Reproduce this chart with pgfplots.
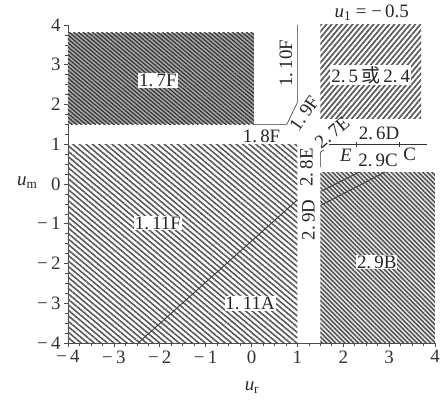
\documentclass[border=0pt]{standalone}
\usepackage{fontspec}
\setmainfont{Liberation Serif}
\newfontfamily\cjk{Noto Sans CJK SC}
\usepackage{pgfplots}
\pgfplotsset{compat=1.18}
\usetikzlibrary{patterns.meta}
\tikzset{lbl/.style={fill=white, inner sep=1pt, text=black!85, font=\fontsize{19}{21}\selectfont}}

\begin{document}
\begin{tikzpicture}
\begin{axis}[
  scale only axis, width=367bp, height=318bp,
  xmin=-4, xmax=4, ymin=-4, ymax=4,
  axis x line=bottom, axis y line=left,
  axis line style={-, black!70, line width=0.6pt},
  xtick={-4,...,4}, ytick={-4,...,4},
  xticklabels={−\,4,−\,3,−\,2,−\,1,0,1,2,3,4},
  yticklabels={−\,4,−\,3,−\,2,−\,1,0,1,2,3,4},
  minor tick num=3,
  tick align=outside,
  major tick length=4bp, minor tick length=3bp,
  tick style={black!70, line width=0.6pt},
  ticklabel style={font=\fontsize{19}{21}\selectfont, text=black!80},
  clip=false,
]
% hatched regions
\addplot[draw=none, pattern={Lines[angle=-40,distance=4.2bp,line width=1.6bp]}, pattern color=black!65]
  coordinates {(-4,-4) (1,-4) (1,1) (-4,1)} -- cycle;
\addplot[draw=none, fill=black!35, postaction={pattern={Lines[angle=-40,distance=3bp,line width=1.2bp]}, pattern color=black!80}]
  coordinates {(-4,1.5) (0.05,1.5) (0.05,3.8) (-4,3.8)} -- cycle;
\addplot[draw=none, fill=black!10, postaction={pattern={Lines[angle=-45,distance=3.2bp,line width=1.4bp]}, pattern color=black!70}]
  coordinates {(1.5,-4) (4,-4) (4,0.3) (1.5,0.3)} -- cycle;
\addplot[draw=none, pattern={Lines[angle=50,distance=4bp,line width=1.7bp]}, pattern color=black!65]
  coordinates {(1.5,1.65) (3.7,1.65) (3.7,4) (1.5,4)} -- cycle;

% boundary lines
\addplot[black!75, line width=0.9pt] coordinates {(-2.47,-4) (1.0,-0.4)};
\addplot[black!75, line width=0.9pt] coordinates {(1.52,-0.53) (2.91,0.3)};
\addplot[black!75, line width=0.9pt] coordinates {(1.52,-0.18) (2.35,0.3)};
\addplot[black!80, line width=0.6pt] coordinates {(0.05,1.5) (0.77,1.5) (1.0,2.05) (1.0,4.0)};
\addplot[black!80, line width=0.6pt] coordinates {(1.7,1.0) (3.82,1.0)};
\addplot[black!80, line width=0.6pt, only marks, mark=|, mark size=2.5pt] coordinates {(2.29,1.0) (3.23,1.0)};
\addplot[black!80, line width=0.6pt] coordinates {(1.58,0.86) (1.5,0.8) (1.5,0.43)};

% region labels
\node[lbl] at (axis cs:-2.04,2.6) {1.\,7F};
\node[lbl] at (axis cs:2.6,2.74) {2.\,5\,{\cjk 或}\,2.\,4};
\node[lbl] at (axis cs:-2.04,-0.98) {1.\,11F};
\node[lbl] at (axis cs:-0.03,-3.0) {1.\,11A};
\node[lbl] at (axis cs:2.73,-1.96) {2.\,9B};
\node[lbl, rotate=90] at (axis cs:0.75,3.04) {1.\,10F};
\node[lbl, rotate=55, fill=none, inner sep=0pt] at (axis cs:1.15,1.78) {1.\,9F};
\node[lbl, inner sep=0pt] at (axis cs:0.22,1.2) {1.\,8F};
\node[lbl, rotate=40, fill=none, inner sep=0pt] at (axis cs:1.76,1.3) {2.\,7E};
\node[lbl, fill=none, inner sep=0pt] at (axis cs:2.78,1.27) {2.\,6D};
\node[lbl, fill=none, inner sep=0pt] at (axis cs:2.06,0.72) {\itshape E};
\node[lbl, fill=none, inner sep=0pt] at (axis cs:2.76,0.6) {2.\,9C};
\node[lbl, fill=none, inner sep=0pt] at (axis cs:3.45,0.74) {C};
\node[lbl, rotate=90, fill=none, inner sep=0pt] at (axis cs:1.2,0.42) {2.\,8E};
\node[lbl, rotate=90, fill=none, inner sep=0pt] at (axis cs:1.24,-0.9) {2.\,9D};
\node[lbl, fill=none] at (axis cs:2.62,4.3) {\textit{u}\textsubscript{1} = −\,0.5};

% axis labels
\node[font=\fontsize{19}{21}\selectfont, text=black!85] at (axis cs:-4.89,0.03) {\textit{u}\textsubscript{m}};
\node[font=\fontsize{19}{21}\selectfont, text=black!85] at (axis cs:0.01,-5.13) {\textit{u}\textsubscript{r}};

\coordinate (bl) at (rel axis cs:0,0);
\coordinate (tr) at (rel axis cs:1,1);
\end{axis}
\path ([xshift=-68bp,yshift=-58bp]bl) rectangle ([xshift=10bp,yshift=25bp]tr);
\end{tikzpicture}
\end{document}
